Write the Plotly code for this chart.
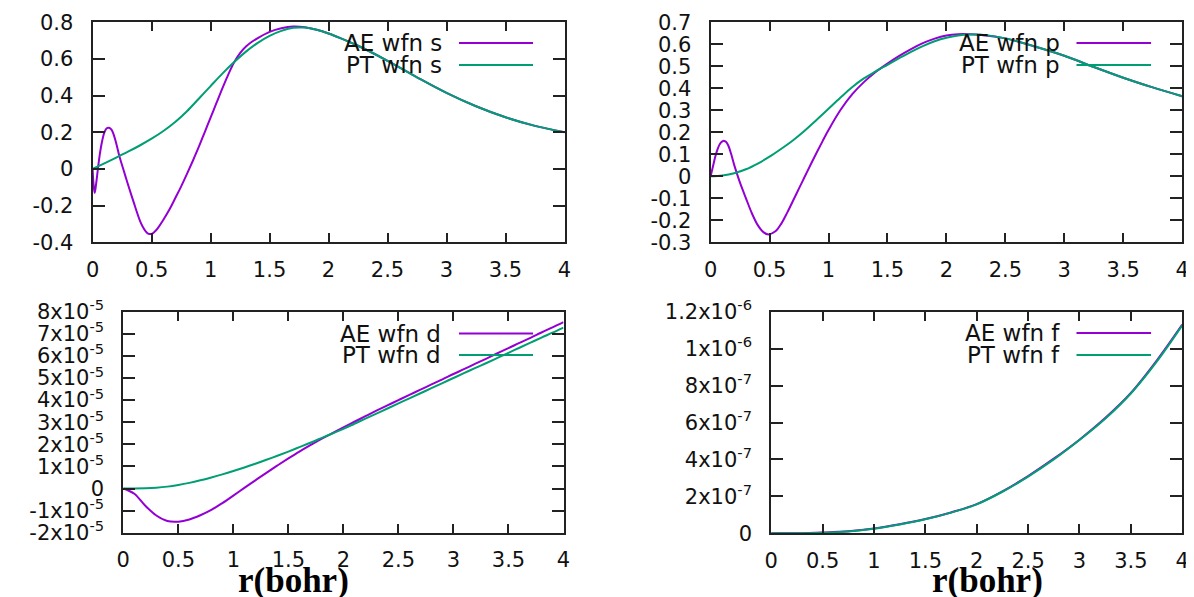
import plotly.graph_objects as go

# ---------------- data ----------------
s_ae_x = [0, 0.009, 0.018, 0.03, 0.045, 0.06, 0.08, 0.1, 0.12, 0.139, 0.16, 0.18, 0.2, 0.225, 0.25,
          0.275, 0.3, 0.35, 0.4, 0.425, 0.45, 0.475, 0.5, 0.525, 0.55, 0.6, 0.65, 0.7, 0.75, 0.8,
          0.85, 0.9, 0.95, 1.0, 1.05, 1.1, 1.15, 1.2, 1.25, 1.3, 1.35, 1.4, 1.5, 1.6, 1.7, 1.8,
          1.9, 2.0, 2.1, 2.25, 2.5, 2.75, 3.0, 3.25, 3.5, 3.75, 4.0]
s_ae_y = [0, -0.09, -0.13, -0.08, 0.0, 0.075, 0.15, 0.2, 0.222, 0.225, 0.215, 0.185, 0.14, 0.075,
          0.02, -0.032, -0.085, -0.185, -0.28, -0.315, -0.34, -0.354, -0.354, -0.343, -0.325,
          -0.277, -0.223, -0.16, -0.096, -0.027, 0.045, 0.12, 0.2, 0.28, 0.36, 0.44, 0.515, 0.582,
          0.632, 0.668, 0.694, 0.714, 0.748, 0.768, 0.777, 0.773, 0.759, 0.739, 0.714, 0.672, 0.59,
          0.5, 0.415, 0.342, 0.282, 0.235, 0.2]
s_pt_x = [0, 0.1, 0.2, 0.3, 0.4, 0.5, 0.6, 0.7, 0.8, 0.9, 1.0, 1.1, 1.2, 1.3, 1.4, 1.5, 1.6, 1.7,
          1.8, 1.9, 2.0, 2.1, 2.25, 2.5, 2.75, 3.0, 3.25, 3.5, 3.75, 4.0]
s_pt_y = [0, 0.031, 0.062, 0.094, 0.128, 0.165, 0.207, 0.256, 0.315, 0.383, 0.452, 0.52, 0.583,
          0.64, 0.688, 0.726, 0.753, 0.77, 0.771, 0.759, 0.739, 0.714, 0.672, 0.59, 0.5, 0.415,
          0.342, 0.282, 0.235, 0.2]

p_ae_x = [0, 0.02, 0.04, 0.06, 0.08, 0.1, 0.114, 0.13, 0.15, 0.175, 0.2, 0.225, 0.25, 0.3, 0.35,
          0.4, 0.45, 0.49, 0.55, 0.6, 0.65, 0.7, 0.75, 0.8, 0.85, 0.9, 0.95, 1.0, 1.1, 1.2, 1.3,
          1.4, 1.5, 1.6, 1.7, 1.8, 1.9, 2.0, 2.1, 2.2, 2.3, 2.5, 2.75, 3.0, 3.25, 3.5, 3.75, 4.0]
p_ae_y = [0, 0.045, 0.09, 0.125, 0.148, 0.159, 0.161, 0.157, 0.14, 0.1, 0.052, 0.01, -0.03, -0.1,
          -0.168, -0.222, -0.255, -0.264, -0.25, -0.215, -0.165, -0.11, -0.055, 0.0, 0.055, 0.108,
          0.16, 0.21, 0.3, 0.372, 0.428, 0.474, 0.512, 0.547, 0.578, 0.605, 0.626, 0.64, 0.646,
          0.646, 0.642, 0.627, 0.59, 0.548, 0.497, 0.448, 0.404, 0.364]
p_pt_x = [0, 0.1, 0.2, 0.3, 0.4, 0.5, 0.6, 0.7, 0.8, 0.9, 1.0, 1.1, 1.2, 1.3, 1.4, 1.5, 1.6, 1.7,
          1.8, 1.9, 2.0, 2.1, 2.2, 2.3, 2.5, 2.75, 3.0, 3.25, 3.5, 3.75, 4.0]
p_pt_y = [0, 0.004, 0.014, 0.032, 0.058, 0.089, 0.125, 0.164, 0.208, 0.257, 0.307, 0.357, 0.405,
          0.445, 0.477, 0.507, 0.537, 0.566, 0.592, 0.614, 0.63, 0.64, 0.644, 0.643, 0.627, 0.59,
          0.548, 0.497, 0.448, 0.404, 0.364]

d_x = [0, 0.1, 0.2, 0.3, 0.4, 0.5, 0.6, 0.7, 0.8, 0.9, 1.0, 1.1, 1.2, 1.3, 1.4, 1.5, 1.6, 1.7, 1.8,
       1.9, 2.0, 2.1, 2.2, 2.3, 2.4, 2.5, 2.6, 2.7, 2.8, 2.9, 3.0, 3.1, 3.2, 3.3, 3.4, 3.5, 3.6,
       3.7, 3.8, 3.9, 4.0]
d_ae_y = [0, -0.24e-5, -0.78e-5, -1.22e-5, -1.47e-5, -1.5e-5, -1.4e-5, -1.21e-5, -0.97e-5,
          -0.66e-5, -0.32e-5, 0.03e-5, 0.37e-5, 0.71e-5, 1.04e-5, 1.36e-5, 1.67e-5, 1.96e-5,
          2.24e-5, 2.51e-5, 2.77e-5, 3.02e-5, 3.27e-5, 3.52e-5, 3.76e-5, 4.0e-5, 4.24e-5, 4.47e-5,
          4.71e-5, 4.94e-5, 5.18e-5, 5.41e-5, 5.65e-5, 5.88e-5, 6.12e-5, 6.35e-5, 6.59e-5, 6.82e-5,
          7.06e-5, 7.29e-5, 7.53e-5]
d_pt_y = [0, 0.002e-5, 0.012e-5, 0.037e-5, 0.085e-5, 0.16e-5, 0.255e-5, 0.37e-5, 0.5e-5, 0.64e-5,
          0.79e-5, 0.95e-5, 1.12e-5, 1.3e-5, 1.48e-5, 1.67e-5, 1.87e-5, 2.07e-5, 2.28e-5, 2.49e-5,
          2.7e-5, 2.93e-5, 3.16e-5, 3.39e-5, 3.62e-5, 3.85e-5, 4.08e-5, 4.31e-5, 4.54e-5, 4.77e-5,
          5.0e-5, 5.23e-5, 5.46e-5, 5.68e-5, 5.91e-5, 6.14e-5, 6.37e-5, 6.6e-5, 6.83e-5, 7.05e-5,
          7.28e-5]

f_x = [0, 0.25, 0.5, 0.75, 1.0, 1.25, 1.5, 1.75, 2.0, 2.25, 2.5, 2.75, 3.0, 3.25, 3.5, 3.75, 4.0]
f_ae_y = [0, 0.0, 0.04e-7, 0.11e-7, 0.26e-7, 0.49e-7, 0.77e-7, 1.13e-7, 1.58e-7, 2.27e-7, 3.1e-7,
          4.04e-7, 5.07e-7, 6.24e-7, 7.6e-7, 9.34e-7, 11.3e-7]
f_pt_y = [0, 0.0, 0.03e-7, 0.1e-7, 0.25e-7, 0.48e-7, 0.76e-7, 1.12e-7, 1.57e-7, 2.25e-7, 3.07e-7,
          4.0e-7, 5.05e-7, 6.2e-7, 7.57e-7, 9.28e-7, 11.26e-7]

x_ticks = [0, 0.5, 1, 1.5, 2, 2.5, 3, 3.5, 4]
x_ticktext = ["0", "0.5", "1", "1.5", "2", "2.5", "3", "3.5", "4"]
s_yticks = [-0.4, -0.2, 0, 0.2, 0.4, 0.6, 0.8]
s_yticktext = ["-0.4", "-0.2", "0", "0.2", "0.4", "0.6", "0.8"]
p_yticks = [-0.3, -0.2, -0.1, 0, 0.1, 0.2, 0.3, 0.4, 0.5, 0.6, 0.7]
p_yticktext = ["-0.3", "-0.2", "-0.1", "0", "0.1", "0.2", "0.3", "0.4", "0.5", "0.6", "0.7"]
d_yticks = [-2e-5, -1e-5, 0, 1e-5, 2e-5, 3e-5, 4e-5, 5e-5, 6e-5, 7e-5, 8e-5]
d_yticktext = ["-2x10<sup>-5</sup>", "-1x10<sup>-5</sup>", "0", "1x10<sup>-5</sup>", "2x10<sup>-5</sup>",
               "3x10<sup>-5</sup>", "4x10<sup>-5</sup>", "5x10<sup>-5</sup>", "6x10<sup>-5</sup>",
               "7x10<sup>-5</sup>", "8x10<sup>-5</sup>"]
f_yticks = [0, 2e-7, 4e-7, 6e-7, 8e-7, 1e-6, 1.2e-6]
f_yticktext = ["0", "2x10<sup>-7</sup>", "4x10<sup>-7</sup>", "6x10<sup>-7</sup>", "8x10<sup>-7</sup>",
               "1x10<sup>-6</sup>", "1.2x10<sup>-6</sup>"]

ae_names = ["AE wfn s", "AE wfn p", "AE wfn d", "AE wfn f"]
pt_names = ["PT wfn s", "PT wfn p", "PT wfn d", "PT wfn f"]
xlabel = "r(bohr)"

# ---------------- styling / layout ----------------
# the page body has an 8px default margin, so the figure starts at (8, 8)
OFF = 8
W, H = 1194 - OFF, 597 - OFF
AE_COLOR = "#9400d3"
PT_COLOR = "#009e73"
FONT = "DejaVu Sans"
FS = 21


def px(xp):
    return (xp - OFF) / W


def py(yp):
    return 1 - (yp - OFF) / H


panels = [
    dict(xd=(92.6, 564.5), yd=(22.3, 242.3), ae=(s_ae_x, s_ae_y), pt=(s_pt_x, s_pt_y),
         yr=[-0.4, 0.8], yt=(s_yticks, s_yticktext), leg=(444, 459, 533, 43, 65)),
    dict(xd=(710.6, 1182.2), yd=(22.3, 242.3), ae=(p_ae_x, p_ae_y), pt=(p_pt_x, p_pt_y),
         yr=[-0.3, 0.7], yt=(p_yticks, p_yticktext), leg=(1062, 1076.5, 1151, 43, 65)),
    dict(xd=(123.3, 563.5), yd=(311.7, 532.7), ae=(d_x, d_ae_y), pt=(d_x, d_pt_y),
         yr=[-2e-5, 8e-5], yt=(d_yticks, d_yticktext), leg=(443, 459, 533, 333.5, 355)),
    dict(xd=(771.2, 1182.2), yd=(311.7, 533.3), ae=(f_x, f_ae_y), pt=(f_x, f_pt_y),
         yr=[0, 1.2e-6], yt=(f_yticks, f_yticktext), leg=(1062, 1076.5, 1151, 333, 355)),
]

fig = go.Figure()
annotations = []
shapes = []

for i, pnl in enumerate(panels):
    n = i + 1
    xa = "x" if n == 1 else f"x{n}"
    ya = "y" if n == 1 else f"y{n}"
    fig.add_trace(go.Scatter(x=pnl["ae"][0], y=pnl["ae"][1], mode="lines", name=ae_names[i],
                             line=dict(color=AE_COLOR, width=2, shape="spline", smoothing=1.0),
                             xaxis=xa, yaxis=ya, showlegend=False))
    fig.add_trace(go.Scatter(x=pnl["pt"][0], y=pnl["pt"][1], mode="lines", name=pt_names[i],
                             line=dict(color=PT_COLOR, width=2, shape="spline", smoothing=1.0),
                             xaxis=xa, yaxis=ya, showlegend=False))

    xkey = "xaxis" if n == 1 else f"xaxis{n}"
    ykey = "yaxis" if n == 1 else f"yaxis{n}"
    common = dict(showgrid=False, zeroline=False, showline=True, mirror="ticks",
                  linecolor="#222222", linewidth=2, ticks="inside", tickcolor="#222222",
                  tickwidth=2, tickfont=dict(family=FONT, size=FS, color="#111111"),
                  automargin=False, fixedrange=True)
    fig.update_layout({
        xkey: dict(domain=[px(pnl["xd"][0]), px(pnl["xd"][1])], range=[0, 4],
                   tickvals=x_ticks, ticktext=x_ticktext, ticklen=9, anchor=ya,
                   ticklabelstandoff=7, **common),
        ykey: dict(domain=[py(pnl["yd"][1]), py(pnl["yd"][0])], range=pnl["yr"],
                   tickvals=pnl["yt"][0], ticktext=pnl["yt"][1], ticklen=12, anchor=xa,
                   ticklabelstandoff=13, **common),
    })

    tx, l0, l1, yr1, yr2 = pnl["leg"]
    for name, yy, col in ((ae_names[i], yr1, AE_COLOR), (pt_names[i], yr2, PT_COLOR)):
        annotations.append(dict(x=px(tx), y=py(yy), xref="paper", yref="paper", text=name,
                                showarrow=False, xanchor="right", yanchor="middle",
                                font=dict(family=FONT, size=FS + 2, color="#111111")))
        shapes.append(dict(type="line", xref="paper", yref="paper", x0=px(l0), x1=px(l1),
                           y0=py(yy), y1=py(yy), line=dict(color=col, width=2)))

for cx in (293, 987):
    annotations.append(dict(x=px(cx), y=py(580), xref="paper", yref="paper", text=f"<b>{xlabel}</b>",
                            showarrow=False, xanchor="center", yanchor="middle",
                            font=dict(family="Liberation Serif", size=35, color="#000000")))

fig.update_layout(width=W, height=H, margin=dict(l=0, r=0, t=0, b=0),
                  paper_bgcolor="white", plot_bgcolor="white",
                  annotations=annotations, shapes=shapes, showlegend=False)

fig.write_html("out.html")
